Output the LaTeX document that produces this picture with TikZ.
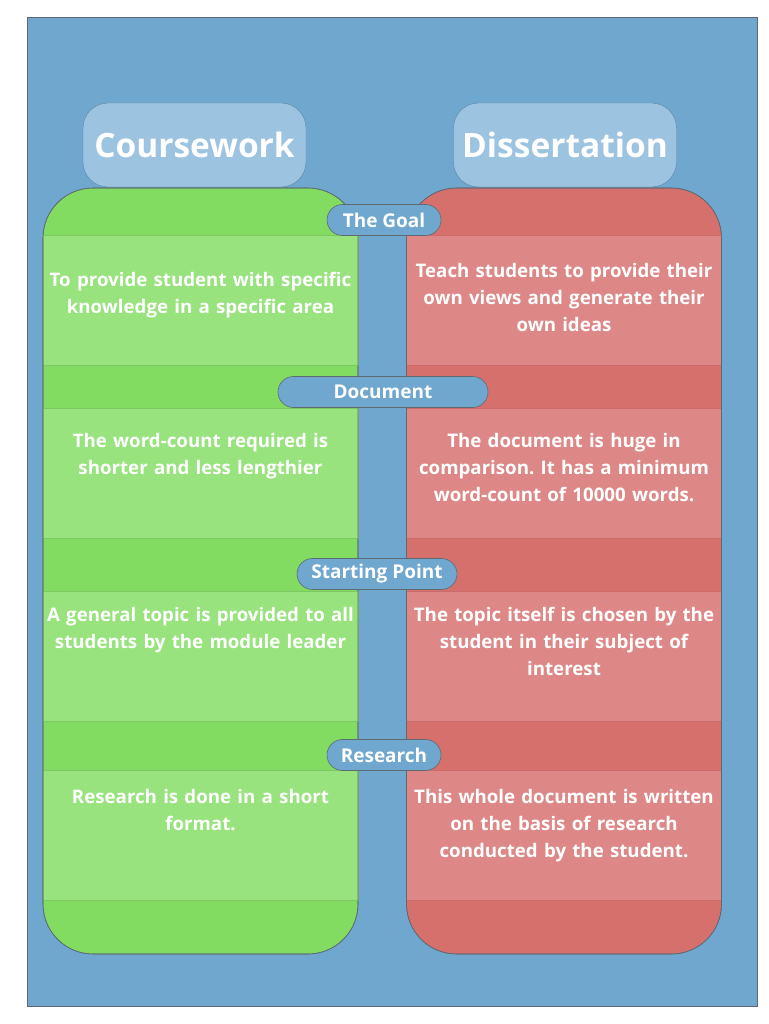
\documentclass[tikz,border=0pt]{standalone}
\usepackage{fontspec}
\setmainfont{Open Sans}
\usetikzlibrary{shapes.misc}
\frenchspacing

\definecolor{bgblue}{HTML}{6FA7CE}
\definecolor{headfill}{HTML}{9CC3DF}
\definecolor{edgegray}{HTML}{5E6A72}
\definecolor{greendark}{HTML}{82DC62}
\definecolor{greenlight}{HTML}{98E37E}
\definecolor{greenline}{HTML}{7CC964}
\definecolor{reddark}{HTML}{D6706D}
\definecolor{redlight}{HTML}{DD8887}
\definecolor{redline}{HTML}{CC6C6A}

\tikzset{
  panel/.style={draw=edgegray, line width=0.6pt, rounded corners=50pt,
    minimum width=315pt, minimum height=766pt, inner sep=0pt},
  header/.style={fill=headfill, draw=bgblue!80!black, line width=0.4pt,
    rounded corners=25pt, minimum width=223pt, minimum height=84pt,
    text=white, font=\bfseries\fontsize{33.5}{38}\selectfont},
  band/.style={minimum width=315pt, minimum height=130pt, inner sep=0pt,
    line width=0.6pt},
  gband/.style={band, fill=greenlight, draw=greenline},
  rband/.style={band, fill=redlight, draw=redline},
  pill/.style={rounded rectangle, fill=bgblue, draw=edgegray, line width=0.6pt,
    minimum height=31pt, inner sep=0pt, text=white,
    font=\bfseries\fontsize{19}{22}\selectfont},
  body/.style={anchor=north, inner sep=0pt, text=white, align=center,
    text width=314pt, font=\bfseries\fontsize{18.7}{27}\selectfont},
}

\begin{document}
\begin{tikzpicture}[x=1pt, y=-1pt]
  \useasboundingbox (0,0) rectangle (768,1024);
  % background sheet
  \node[fill=bgblue, draw=edgegray, line width=0.6pt, minimum width=730pt,
        minimum height=989pt, inner sep=0pt] (sheet) at (392,511.5) {};

  % column titles
  \node[header] (hcw) at (194.5,145) {Coursework};
  \node[header] (hds) at (565,145) {Dissertation};

  % column bodies
  \node[panel, fill=greendark] (cw) at (200.5,571) {};
  \node[panel, fill=reddark] (ds) at (564,571) {};

  % light content bands
  \foreach \i/\yc in {1/300, 2/473.5, 3/656.5, 4/835.5} {
    \node[gband] (gb\i) at (200.5,\yc) {};
    \node[rband] (rb\i) at (564,\yc) {};
  }

  % column outlines on top of the bands
  \node[panel] (cwo) at (cw.center) {};
  \node[panel] (dso) at (ds.center) {};

  % row labels
  \node[pill, minimum width=114pt] (goal) at (384,220) {The Goal};
  \node[pill, minimum width=210pt] (doc) at (383,392) {Document};
  \node[pill, minimum width=160pt] (start) at (377,574) {Starting Point};
  \node[pill, minimum width=114pt] (res) at (384,755) {Research};

  % coursework texts
  \node[body] (t1l) at (200.5,272) {To provide student with specific\\knowledge in a specific area};
  \node[body] (t2l) at (200.5,433) {The word-count required is\\shorter and less lengthier};
  \node[body] (t3l) at (200.5,607) {A general topic is provided to all\\students by the module leader};
  \node[body] (t4l) at (200.5,789) {Research is done in a short\\format.};

  % dissertation texts
  \node[body] (t1r) at (564,263) {Teach students to provide their\\own views and generate their\\own ideas};
  \node[body] (t2r) at (564,433) {The document is huge in\\comparison. It has a minimum\\word-count of 10000 words.};
  \node[body] (t3r) at (564,607) {The topic itself is chosen by the\\student in their subject of\\interest};
  \node[body] (t4r) at (564,789) {This whole document is written\\on the basis of research\\conducted by the student.};
\end{tikzpicture}
\end{document}
